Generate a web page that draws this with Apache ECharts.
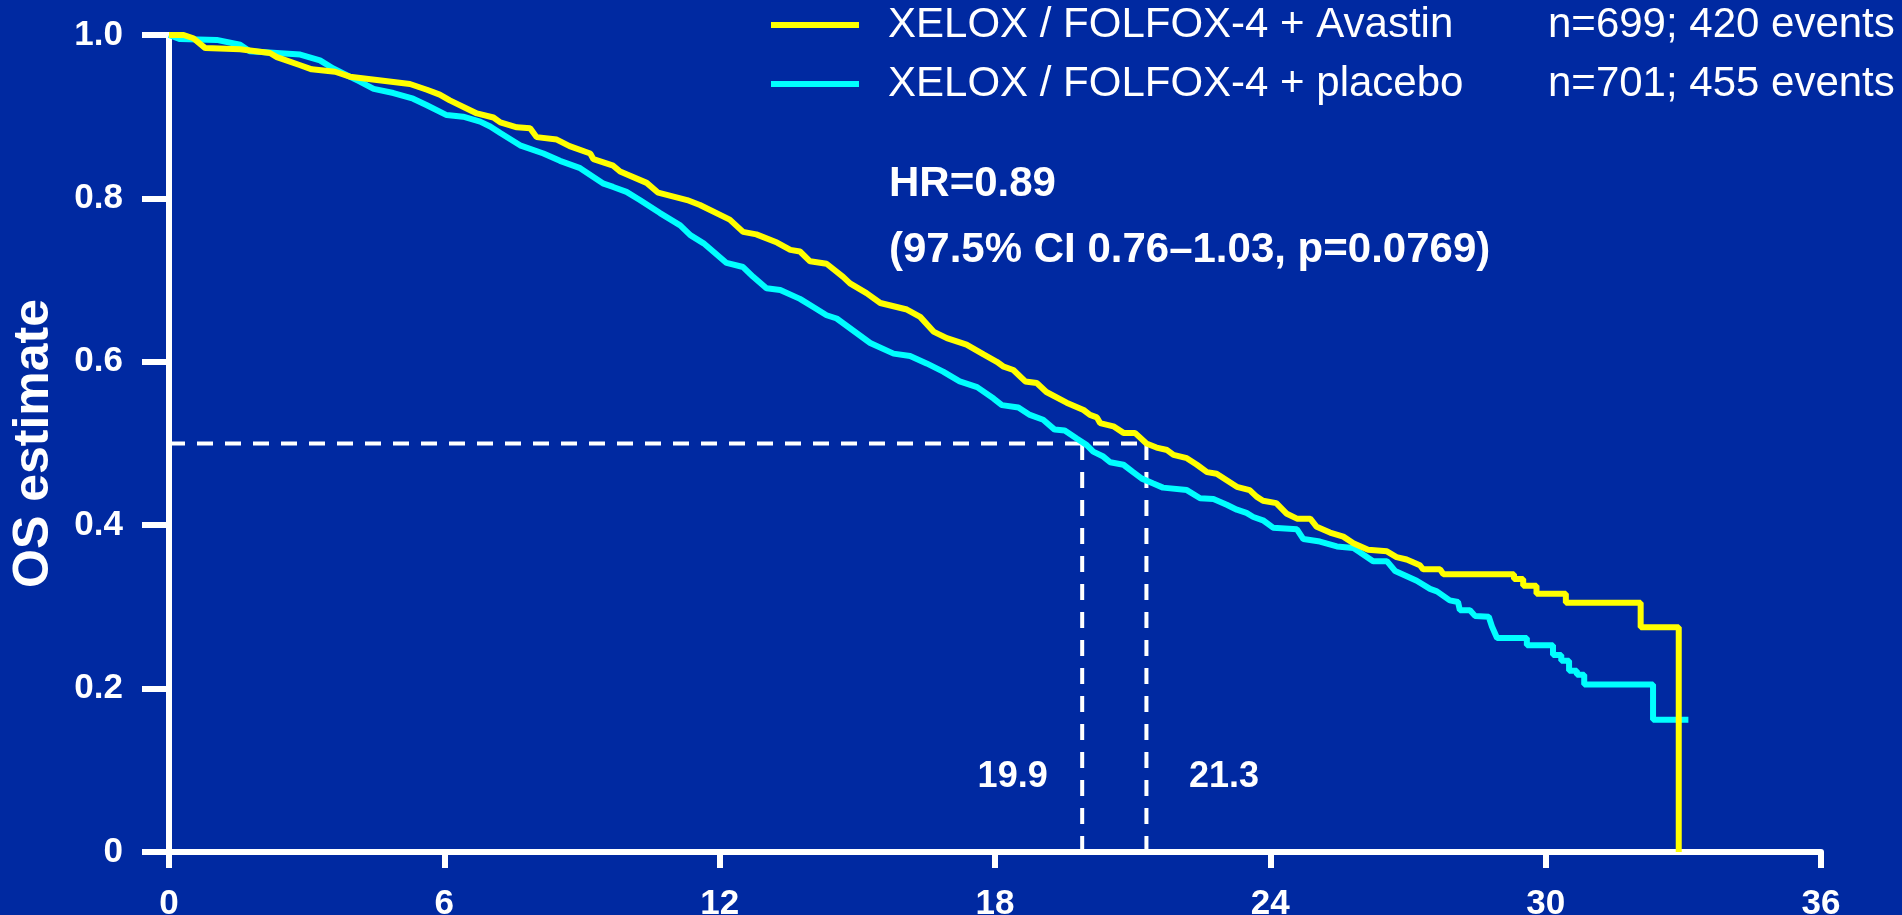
<!DOCTYPE html>
<html>
<head>
<meta charset="utf-8">
<script src="https://cdn.jsdelivr.net/npm/echarts@6/dist/echarts.min.js"></script>
<style>
  html, body { margin: 0; padding: 0; background: #0029a1; }
  #chart { width: 1902px; height: 915px; }
</style>
</head>
<body>
<div id="chart"></div>
<script>
// ---- Data ----
const xTicks = [0, 6, 12, 18, 24, 30, 36];
const yTickLabels = ['0', '0.2', '0.4', '0.6', '0.8', '1.0'];

const seriesNames = ['XELOX / FOLFOX-4 + Avastin', 'XELOX / FOLFOX-4 + placebo'];
const seriesStats = ['n=699; 420 events', 'n=701; 455 events'];

const avastinMonths = [0, 0.32, 0.53, 0.79, 1.55, 2.20, 2.35, 2.86, 3.11, 3.62, 3.94, 4.53, 5.25, 5.62, 5.90, 6.12, 6.71, 7.07, 7.22, 7.58, 7.87, 8.01, 8.45, 8.73, 9.18, 9.25, 9.68, 9.83, 10.41, 10.66, 11.29, 11.57, 12.22, 12.51, 12.80, 13.25, 13.54, 13.75, 13.97, 14.33, 14.69, 14.84, 15.20, 15.50, 16.08, 16.37, 16.66, 16.95, 17.38, 17.75, 18.04, 18.19, 18.40, 18.66, 18.91, 19.12, 19.56, 19.93, 20.07, 20.22, 20.29, 20.58, 20.80, 21.05, 21.30, 21.52, 21.75, 21.89, 22.18, 22.40, 22.62, 22.83, 23.27, 23.55, 23.70, 23.84, 24.13, 24.36, 24.58, 24.87, 25.01, 25.30, 25.59, 25.81, 26.13, 26.54, 26.75, 26.97, 27.26, 27.33, 27.70, 27.77, 29.31, 29.31, 29.51, 29.51, 29.80, 29.80, 30.44, 30.44, 32.07, 32.07, 32.90, 32.90];
const avastinOS = [1.0, 1.0, 0.996, 0.984, 0.9825, 0.978, 0.973, 0.963, 0.958, 0.955, 0.949, 0.945, 0.940, 0.933, 0.927, 0.920, 0.904, 0.899, 0.893, 0.887, 0.886, 0.875, 0.872, 0.864, 0.855, 0.848, 0.840, 0.833, 0.819, 0.807, 0.798, 0.792, 0.774, 0.759, 0.756, 0.746, 0.737, 0.735, 0.723, 0.720, 0.704, 0.696, 0.684, 0.672, 0.664, 0.655, 0.637, 0.629, 0.621, 0.609, 0.600, 0.594, 0.590, 0.576, 0.574, 0.563, 0.550, 0.541, 0.535, 0.532, 0.525, 0.521, 0.513, 0.513, 0.500, 0.495, 0.492, 0.486, 0.482, 0.474, 0.465, 0.463, 0.447, 0.443, 0.435, 0.430, 0.427, 0.414, 0.408, 0.408, 0.398, 0.391, 0.386, 0.378, 0.370, 0.368, 0.361, 0.358, 0.351, 0.346, 0.346, 0.340, 0.340, 0.334, 0.334, 0.326, 0.326, 0.316, 0.316, 0.305, 0.305, 0.275, 0.275, 0];

const placeboMonths = [0, 0.24, 1.04, 1.55, 1.76, 2.86, 3.29, 3.58, 4.16, 4.46, 4.89, 5.32, 5.62, 6.05, 6.41, 6.78, 7.00, 7.22, 7.65, 8.16, 8.52, 8.96, 9.47, 9.68, 9.97, 10.26, 10.70, 11.14, 11.36, 11.65, 12.15, 12.51, 12.73, 13.02, 13.32, 13.75, 14.04, 14.33, 14.55, 15.28, 15.79, 16.15, 16.51, 16.87, 17.23, 17.61, 17.97, 18.15, 18.51, 18.76, 19.05, 19.30, 19.52, 19.78, 20.00, 20.14, 20.36, 20.51, 20.80, 21.01, 21.20, 21.45, 21.66, 22.18, 22.47, 22.76, 23.05, 23.27, 23.48, 23.63, 23.84, 24.06, 24.58, 24.72, 25.08, 25.45, 25.81, 25.95, 26.24, 26.54, 26.72, 27.19, 27.48, 27.63, 27.91, 28.09, 28.13, 28.35, 28.46, 28.76, 28.83, 28.94, 29.59, 29.59, 30.16, 30.16, 30.34, 30.34, 30.51, 30.51, 30.68, 30.68, 30.84, 30.84, 32.34, 32.34, 33.11];
const placeboOS = [1.0, 0.995, 0.994, 0.988, 0.980, 0.976, 0.969, 0.959, 0.943, 0.934, 0.929, 0.922, 0.914, 0.902, 0.900, 0.894, 0.888, 0.880, 0.865, 0.855, 0.846, 0.837, 0.818, 0.814, 0.808, 0.798, 0.782, 0.767, 0.755, 0.745, 0.721, 0.716, 0.704, 0.690, 0.688, 0.677, 0.667, 0.657, 0.653, 0.623, 0.610, 0.607, 0.598, 0.588, 0.576, 0.569, 0.555, 0.547, 0.544, 0.535, 0.529, 0.517, 0.516, 0.506, 0.498, 0.490, 0.484, 0.477, 0.474, 0.465, 0.457, 0.451, 0.446, 0.443, 0.433, 0.432, 0.425, 0.419, 0.415, 0.410, 0.406, 0.397, 0.395, 0.383, 0.380, 0.374, 0.372, 0.367, 0.356, 0.356, 0.344, 0.332, 0.322, 0.319, 0.308, 0.306, 0.296, 0.296, 0.289, 0.288, 0.276, 0.262, 0.262, 0.253, 0.253, 0.241, 0.241, 0.234, 0.234, 0.222, 0.222, 0.217, 0.217, 0.205, 0.205, 0.162, 0.162];

const medianLevel = 0.5;
const medianPlacebo = 19.9;
const medianAvastin = 21.3;

const hrText = 'HR=0.89';
const ciText = '(97.5% CI 0.76\u20131.03, p=0.0769)';
const yAxisTitle = 'OS estimate';

// ---- Chart ----
const FONT = '"Liberation Sans", Arial, Helvetica, sans-serif';
const zip = (xs, ys) => xs.map((x, i) => [x, ys[i]]);
const statOf = name => seriesStats[seriesNames.indexOf(name)];

const chart = echarts.init(document.getElementById('chart'), null, { renderer: 'canvas' });

const option = {
  backgroundColor: '#0029a1',
  animation: false,
  grid: { left: 169, top: 35, width: 1652, height: 817, containLabel: false, outerBoundsMode: 'none' },
  xAxis: {
    type: 'value', min: xTicks[0], max: xTicks[xTicks.length - 1], interval: 6,
    axisLine: { show: true, lineStyle: { color: '#ffffff', width: 6 } },
    axisTick: { show: true, length: 16, lineStyle: { color: '#ffffff', width: 6 } },
    axisLabel: { color: '#ffffff', fontSize: 35, fontWeight: 'bold', fontFamily: FONT, margin: 35 },
    splitLine: { show: false }
  },
  yAxis: {
    type: 'value', min: 0, max: 1, interval: 0.2,
    name: yAxisTitle, nameLocation: 'middle', nameGap: 110, nameRotate: 90,
    nameTextStyle: { color: '#ffffff', fontSize: 50, fontWeight: 'bold', fontFamily: FONT },
    axisLine: { show: true, lineStyle: { color: '#ffffff', width: 6 } },
    axisTick: { show: true, length: 27, lineStyle: { color: '#ffffff', width: 6 } },
    axisLabel: {
      color: '#ffffff', fontSize: 35, fontWeight: 'bold', fontFamily: FONT, margin: 46,
      formatter: (v) => yTickLabels[Math.round(v / 0.2)]
    },
    splitLine: { show: false }
  },
  legend: {
    orient: 'vertical', left: 766, top: -1,
    icon: 'rect', itemWidth: 88, itemHeight: 6, itemGap: 17,
    data: seriesNames,
    selectedMode: false,
    formatter: (name) => '{pad|}{a|' + name + '}{b|' + statOf(name) + '}',
    textStyle: {
      color: '#ffffff', fontSize: 42, fontFamily: FONT, lineHeight: 40,
      rich: {
        pad: { width: 24, fontSize: 42, lineHeight: 40 },
        a: { width: 660, color: '#ffffff', fontSize: 42, fontFamily: FONT, lineHeight: 40 },
        b: { color: '#ffffff', fontSize: 42, fontFamily: FONT, lineHeight: 40 }
      }
    }
  },
  graphic: [
    { type: 'text', x: 889, y: 184, silent: true,
      style: { text: hrText, fill: '#ffffff', font: 'bold 42px ' + FONT, textVerticalAlign: 'middle' } },
    { type: 'text', x: 889, y: 250, silent: true,
      style: { text: ciText, fill: '#ffffff', font: 'bold 42px ' + FONT, textVerticalAlign: 'middle' } }
  ],
  series: [
    {
      name: 'median-h', type: 'line', silent: true, symbol: 'none', z: 1,
      data: [[0, medianLevel], [medianAvastin, medianLevel]],
      lineStyle: { color: '#ffffff', width: 4, type: [16, 12] }
    },
    {
      name: 'median-placebo', type: 'line', silent: true, symbol: 'none', z: 1,
      data: [[medianPlacebo, 0], [medianPlacebo, medianLevel]],
      lineStyle: { color: '#ffffff', width: 4, type: [16, 12] }
    },
    {
      name: 'median-avastin', type: 'line', silent: true, symbol: 'none', z: 1,
      data: [[medianAvastin, 0], [medianAvastin, medianLevel]],
      lineStyle: { color: '#ffffff', width: 4, type: [16, 12] }
    },
    {
      name: 'median-labels', type: 'scatter', silent: true, symbolSize: 1, z: 3,
      itemStyle: { color: 'transparent', opacity: 1 },
      data: [
        { value: [medianPlacebo, 0.092],
          label: { show: true, position: 'left', distance: 34, formatter: medianPlacebo.toFixed(1) } },
        { value: [medianAvastin, 0.092],
          label: { show: true, position: 'right', distance: 42, formatter: medianAvastin.toFixed(1) } }
      ],
      label: { color: '#ffffff', opacity: 1, fontSize: 36, fontWeight: 'bold', fontFamily: FONT }
    },
    {
      name: seriesNames[1], type: 'line', symbol: 'none', showSymbol: false, z: 4,
      data: zip(placeboMonths, placeboOS),
      lineStyle: { color: '#00ffff', width: 6 }, itemStyle: { color: '#00ffff' }
    },
    {
      name: seriesNames[0], type: 'line', symbol: 'none', showSymbol: false, z: 5,
      data: zip(avastinMonths, avastinOS),
      lineStyle: { color: '#ffff00', width: 6 }, itemStyle: { color: '#ffff00' }
    }
  ]
};

chart.setOption(option);
</script>
</body>
</html>
